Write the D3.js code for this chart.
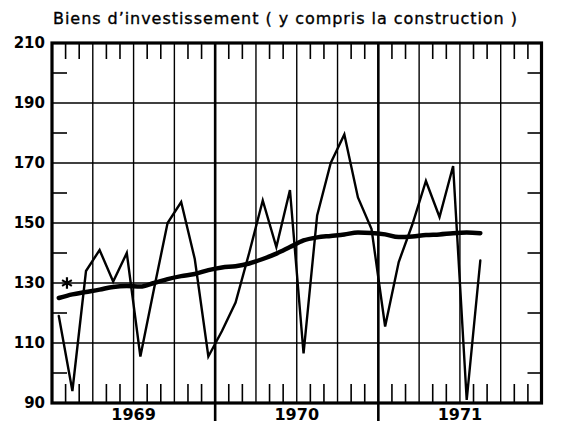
<!DOCTYPE html>
<html>
<head>
<meta charset="utf-8">
<script src="https://cdn.jsdelivr.net/npm/d3@7"></script>
<style>
  html, body { margin: 0; padding: 0; background: #fff; }
  svg { display: block; }
</style>
</head>
<body>
<svg id="chart" width="578" height="424"></svg>
<script>
// ---- data ----
const title = "Biens d’investissement ( y compris la construction )";
const months = [
  "1969-01","1969-02","1969-03","1969-04","1969-05","1969-06","1969-07","1969-08","1969-09","1969-10","1969-11","1969-12",
  "1970-01","1970-02","1970-03","1970-04","1970-05","1970-06","1970-07","1970-08","1970-09","1970-10","1970-11","1970-12",
  "1971-01","1971-02","1971-03","1971-04","1971-05","1971-06","1971-07","1971-08"
];
const monthlyValues = [
  119, 94, 134, 141, 130.5, 140, 105.5, 128, 150, 157, 138, 105.5,
  114, 123.5, 140, 157.5, 142, 161, 106.5, 152.5, 170, 179.5, 158.5, 148,
  115.5, 137, 149.5, 164, 152, 169, 91, 137.5
];
const trendValues = [
  125, 126.2, 127, 127.8, 128.7, 129, 128.8, 130, 131.3, 132.3, 133, 134.3,
  135.2, 135.6, 136.5, 138, 139.8, 142, 144.2, 145.2, 145.7, 146.2, 146.8, 146.7,
  146.2, 145.3, 145.5, 146, 146.2, 146.6, 146.8, 146.6
];
const markerPoint = { month: "1969-01", offset: 0.6, value: 130 };
const yTicks = [90, 110, 130, 150, 170, 190, 210];
const yMinorTicks = [100, 120, 140, 160, 180, 200];
const yearLabels = ["1969", "1970", "1971"];

// ---- layout ----
const svg = d3.select("#chart");
const pLeft = 52, pRight = 541.5, pTop = 43, pBottom = 403;
const totalMonths = yearLabels.length * 12;
const firstYear = +yearLabels[0];
const monthIndex = s => (+s.slice(0, 4) - firstYear) * 12 + (+s.slice(5, 7) - 1);

const x = d3.scaleLinear().domain([0, totalMonths]).range([pLeft, pRight]);
const y = d3.scaleLinear().domain([90, 210]).range([pBottom, pTop]);

const g = svg.append("g");

// quarter gridlines
const quarters = d3.range(3, totalMonths, 3).filter(m => m % 12 !== 0);
g.selectAll("line.vq").data(quarters).join("line")
  .attr("x1", d => x(d)).attr("x2", d => x(d))
  .attr("y1", pTop).attr("y2", pBottom)
  .attr("stroke", "#000").attr("stroke-width", 1.4);

// year boundary lines (thicker, extend below axis)
const yearBounds = d3.range(12, totalMonths, 12);
g.selectAll("line.vy").data(yearBounds).join("line")
  .attr("x1", d => x(d)).attr("x2", d => x(d))
  .attr("y1", pTop).attr("y2", 421)
  .attr("stroke", "#000").attr("stroke-width", 2.6);

// horizontal gridlines
g.selectAll("line.h").data(yTicks.slice(1, -1)).join("line")
  .attr("x1", pLeft).attr("x2", pRight)
  .attr("y1", d => y(d)).attr("y2", d => y(d))
  .attr("stroke", "#000").attr("stroke-width", 1.5);

// month ticks top and bottom
const monthTicks = d3.range(1, totalMonths).filter(m => m % 3 !== 0);
g.selectAll("line.mt").data(monthTicks).join("line")
  .attr("x1", d => x(d)).attr("x2", d => x(d))
  .attr("y1", pTop).attr("y2", pTop + 16)
  .attr("stroke", "#000").attr("stroke-width", 1.6);
g.selectAll("line.mb").data(monthTicks).join("line")
  .attr("x1", d => x(d)).attr("x2", d => x(d))
  .attr("y1", pBottom - 19).attr("y2", pBottom)
  .attr("stroke", "#000").attr("stroke-width", 1.6);

// minor y ticks left & right
g.selectAll("line.yl").data(yMinorTicks).join("line")
  .attr("x1", pLeft).attr("x2", pLeft + 15)
  .attr("y1", d => y(d)).attr("y2", d => y(d))
  .attr("stroke", "#000").attr("stroke-width", 1.6);
g.selectAll("line.yr").data(yMinorTicks).join("line")
  .attr("x1", pRight - 14).attr("x2", pRight)
  .attr("y1", d => y(d)).attr("y2", d => y(d))
  .attr("stroke", "#000").attr("stroke-width", 1.6);

// frame
g.append("rect")
  .attr("x", pLeft).attr("y", pTop)
  .attr("width", pRight - pLeft).attr("height", pBottom - pTop)
  .attr("fill", "none").attr("stroke", "#000").attr("stroke-width", 3.2);

// y axis labels
g.selectAll("text.yl").data(yTicks).join("text")
  .attr("x", 45).attr("y", d => y(d))
  .attr("dy", "0.36em")
  .attr("text-anchor", "end")
  .attr("font-family", "DejaVu Sans, sans-serif")
  .attr("font-weight", "bold")
  .attr("font-size", 15)
  .text(d => d);

// year labels
g.selectAll("text.yr").data(yearLabels).join("text")
  .attr("x", (d, i) => x(i * 12 + 6))
  .attr("y", 420)
  .attr("text-anchor", "middle")
  .attr("font-family", "DejaVu Sans, sans-serif")
  .attr("font-weight", "bold")
  .attr("font-size", 16)
  .text(d => d);

// title
svg.append("text")
  .attr("x", 53).attr("y", 24)
  .attr("font-family", "DejaVu Sans, sans-serif")
  .attr("font-size", 16)
  .attr("stroke", "#000").attr("stroke-width", 0.35)
  .attr("textLength", 464)
  .attr("lengthAdjust", "spacing")
  .text(title);

// series
const mx = s => x(monthIndex(s) + 0.5);
const line = d3.line().x(d => mx(d.m)).y(d => y(d.v));

const monthly = months.map((m, i) => ({ m, v: monthlyValues[i] }));
const trend = months.map((m, i) => ({ m, v: trendValues[i] }));

g.append("path").datum(trend)
  .attr("d", d3.line().curve(d3.curveMonotoneX).x(d => mx(d.m)).y(d => y(d.v)))
  .attr("fill", "none").attr("stroke", "#000")
  .attr("stroke-width", 4.5).attr("stroke-linecap", "round").attr("stroke-linejoin", "round");

g.append("path").datum(monthly)
  .attr("d", line)
  .attr("fill", "none").attr("stroke", "#000")
  .attr("stroke-width", 2.4).attr("stroke-linejoin", "miter").attr("stroke-linecap", "round");

// asterisk marker
g.append("path")
  .attr("transform", `translate(${x(monthIndex(markerPoint.month) + markerPoint.offset + 0.5)},${y(markerPoint.value)})`)
  .attr("d", d3.symbol(d3.symbolAsterisk, 90)())
  .attr("fill", "none").attr("stroke", "#000").attr("stroke-width", 2.2);
</script>
</body>
</html>
